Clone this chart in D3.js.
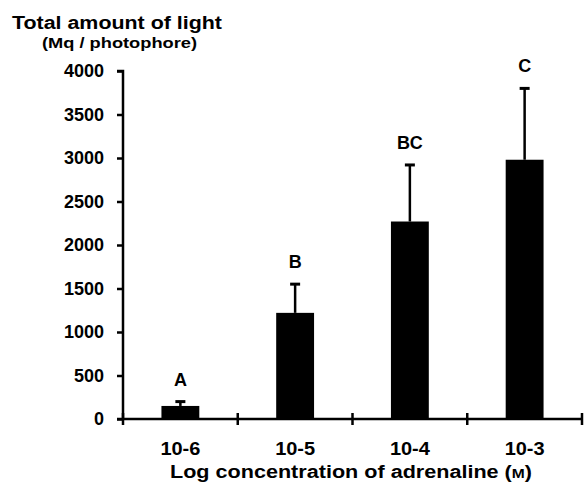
<!DOCTYPE html>
<html>
<head>
<meta charset="utf-8">
<script src="https://cdn.jsdelivr.net/npm/d3@7"></script>
<style>
  body { margin: 0; background: #fff; }
  text { font-family: "Liberation Sans", Arial, sans-serif; font-weight: bold; fill: #000; }
</style>
</head>
<body>
<div id="chart"></div>
<script>
var categories = ["10-6", "10-5", "10-4", "10-3"];
var means = [150, 1220, 2270, 2980];
var errors = [50, 330, 650, 820];
var letters = ["A", "B", "BC", "C"];
var yTicks = [0, 500, 1000, 1500, 2000, 2500, 3000, 3500, 4000];

var margin = { top: 71, right: 4, bottom: 64, left: 123 },
    width = 586 - margin.left - margin.right,
    height = 483 - margin.top - margin.bottom;

var svg = d3.select("#chart")
    .append("svg")
    .attr("width", 586)
    .attr("height", 483)
    .append("g")
    .attr("transform", "translate(" + margin.left + "," + margin.top + ")");

var x = d3.scaleBand()
    .domain(categories)
    .range([0, 459])
    .paddingInner(0.67)
    .paddingOuter(0.335);

var y = d3.scaleLinear()
    .domain([0, 4000])
    .range([height, 0]);

// bars
svg.selectAll(".bar").data(means).enter()
    .append("rect")
    .attr("class", "bar")
    .attr("x", function(d, i) { return x(categories[i]); })
    .attr("y", function(d) { return y(d); })
    .attr("width", x.bandwidth())
    .attr("height", function(d) { return y(0) - y(d); })
    .style("fill", "#000");

// error bars (upper only)
svg.selectAll(".err").data(means).enter()
    .append("line")
    .attr("class", "err")
    .attr("x1", function(d, i) { return x(categories[i]) + x.bandwidth() / 2; })
    .attr("x2", function(d, i) { return x(categories[i]) + x.bandwidth() / 2; })
    .attr("y1", function(d) { return y(d); })
    .attr("y2", function(d, i) { return y(d + errors[i]); })
    .attr("stroke", "#000")
    .attr("stroke-width", 2.5);

svg.selectAll(".cap").data(means).enter()
    .append("line")
    .attr("class", "cap")
    .attr("x1", function(d, i) { return x(categories[i]) + x.bandwidth() / 2 - 5; })
    .attr("x2", function(d, i) { return x(categories[i]) + x.bandwidth() / 2 + 5; })
    .attr("y1", function(d, i) { return y(d + errors[i]); })
    .attr("y2", function(d, i) { return y(d + errors[i]); })
    .attr("stroke", "#000")
    .attr("stroke-width", 3);

// significance letters
svg.selectAll(".letter").data(means).enter()
    .append("text")
    .attr("class", "letter")
    .attr("x", function(d, i) { return x(categories[i]) + x.bandwidth() / 2; })
    .attr("y", function(d, i) { return y(d + errors[i]) - 16; })
    .attr("text-anchor", "middle")
    .style("font-size", "18px")
    .text(function(d, i) { return letters[i]; });

// y axis
var yAxis = svg.append("g")
    .call(d3.axisLeft(y).tickValues(yTicks).tickSize(6).tickPadding(13).tickFormat(d3.format("d")));
yAxis.select(".domain").attr("stroke-width", 2.5).attr("d", "M0," + height + "V0H-6");
yAxis.selectAll(".tick line").attr("stroke-width", 2.5);
yAxis.selectAll(".tick text")
    .style("font-size", "18px")
    .style("font-family", "Liberation Sans, Arial, sans-serif")
    .style("font-weight", "bold");

// x axis with boundary ticks crossing the line
var xAxisG = svg.append("g").attr("transform", "translate(0," + height + ")");
xAxisG.append("line")
    .attr("x1", -6).attr("x2", 459)
    .attr("stroke", "#000").attr("stroke-width", 2.5);
var bounds = d3.range(categories.length + 1).map(function(i) { return i * 459 / categories.length; });
xAxisG.selectAll(".xb").data(bounds).enter()
    .append("line")
    .attr("x1", function(d) { return d; })
    .attr("x2", function(d) { return d; })
    .attr("y1", -6).attr("y2", 6)
    .attr("stroke", "#000").attr("stroke-width", 2.5);
xAxisG.selectAll(".xl").data(categories).enter()
    .append("text")
    .attr("x", function(d) { return x(d) + x.bandwidth() / 2; })
    .attr("y", 36)
    .attr("text-anchor", "middle")
    .style("font-size", "18px")
    .attr("textLength", 40)
    .attr("lengthAdjust", "spacingAndGlyphs")
    .text(function(d) { return d; });

// axis titles
var xt = d3.select("svg").append("text")
    .attr("x", 170)
    .attr("y", 478)
    .attr("textLength", 362)
    .attr("lengthAdjust", "spacingAndGlyphs")
    .style("font-size", "18px");
xt.append("tspan").text("Log concentration of adrenaline (");
xt.append("tspan").style("font-size", "13px").text("M");
xt.append("tspan").text(")");

d3.select("svg").append("text")
    .attr("x", 12)
    .attr("y", 29)
    .attr("textLength", 210)
    .attr("lengthAdjust", "spacingAndGlyphs")
    .style("font-size", "18px")
    .text("Total amount of light");

d3.select("svg").append("text")
    .attr("x", 42)
    .attr("y", 48)
    .attr("textLength", 155)
    .attr("lengthAdjust", "spacingAndGlyphs")
    .style("font-size", "15px")
    .text("(Mq / photophore)");
</script>
</body>
</html>
